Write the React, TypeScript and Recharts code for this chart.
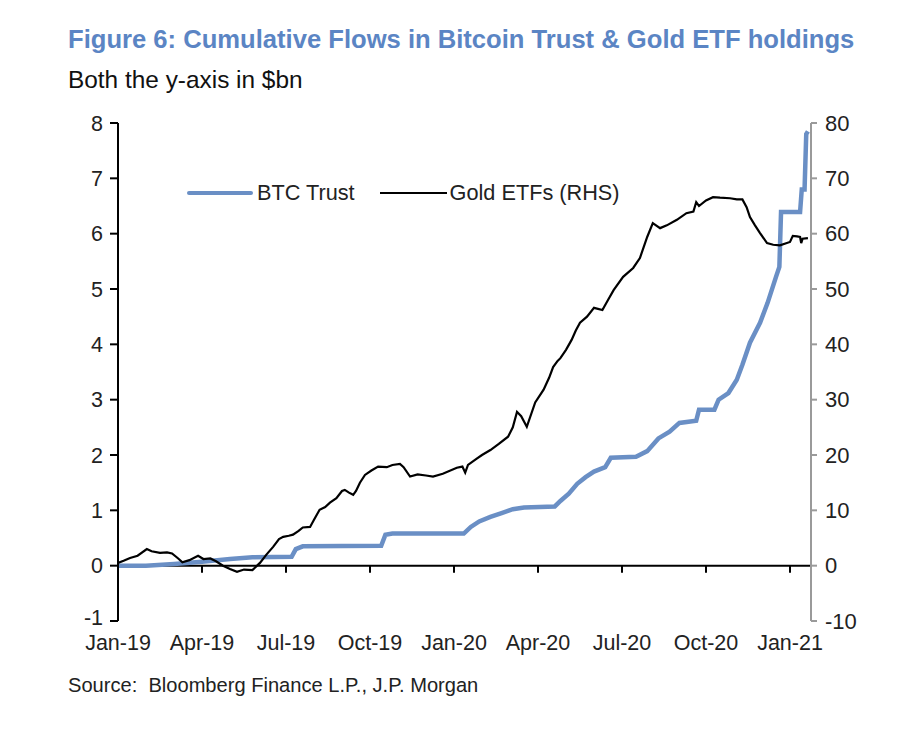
import React from "react";
import {
  LineChart,
  Line,
  XAxis,
  YAxis,
  ReferenceLine,
  Legend,
} from "recharts";

// months since Jan-2019
const goldMonths = [
  0, 0.2, 0.43, 0.7, 1.03, 1.2, 1.5, 1.75, 1.93, 2.15, 2.3, 2.55, 2.86, 3.05, 3.3, 3.5,
  3.75, 4.0, 4.25, 4.5, 4.8, 5.07, 5.3, 5.54, 5.75, 5.9, 6.1, 6.25, 6.45, 6.6, 6.86, 7.0,
  7.2, 7.4, 7.57, 7.8, 8.0, 8.1, 8.25, 8.4, 8.5, 8.64, 8.82, 9.05, 9.29, 9.6, 9.8, 10.07,
  10.2, 10.43, 10.7, 11.0, 11.25, 11.6, 12.1, 12.3, 12.4, 12.5, 12.8, 13.0, 13.3, 13.6,
  13.93, 14.1, 14.25, 14.4, 14.6, 14.9, 15.2, 15.4, 15.54, 15.7, 15.8, 16.0, 16.2, 16.35,
  16.5, 16.75, 17.0, 17.3, 17.5, 17.7, 18.04, 18.4, 18.64, 18.9, 19.1, 19.36, 19.6, 19.96,
  20.3, 20.55, 20.65, 20.75, 21.0, 21.25, 21.5, 21.86, 22.1, 22.3, 22.45, 22.57, 22.75,
  22.93, 23.18, 23.4, 23.64, 24.0, 24.1, 24.25, 24.36, 24.4, 24.45, 24.64,
];
// Gold ETFs cumulative flows, $bn (RHS)
const goldValues = [
  0.5, 0.9, 1.4, 1.8, 3.0, 2.6, 2.3, 2.4, 2.2, 1.3, 0.6, 1.0, 1.8, 1.2, 1.3, 0.8,
  0.0, -0.6, -1.1, -0.7, -0.8, 0.5, 2.0, 3.4, 4.8, 5.2, 5.4, 5.6, 6.3, 6.9, 7.0, 8.3,
  10.1, 10.6, 11.4, 12.2, 13.5, 13.7, 13.2, 12.8, 13.5, 15.0, 16.4, 17.2, 17.9, 17.8, 18.2, 18.4,
  17.8, 16.1, 16.5, 16.3, 16.1, 16.6, 17.7, 17.9, 16.8, 18.2, 19.3, 20.0, 20.9, 22.0,
  23.3, 25.0, 27.8, 27.0, 25.1, 29.5, 31.8, 34.0, 35.9, 37.0, 37.5, 39.0, 40.8, 42.5,
  43.9, 45.0, 46.6, 46.2, 48.0, 49.8, 52.2, 53.8, 55.6, 59.4, 61.9, 61.0, 61.5, 62.5,
  63.7, 64.0, 65.7, 65.0, 66.0, 66.6, 66.5, 66.4, 66.2, 66.2, 64.8, 63.0, 61.5,
  60.1, 58.3, 58.0, 57.9, 58.5, 59.6, 59.5, 59.4, 58.3, 59.1, 59.2,
];

const btcMonths = [
  0, 1.0, 2.0, 3.0, 4.0, 4.8, 6.2, 6.35, 6.6, 9.4, 9.55, 9.8, 12.35, 12.6, 12.9, 13.3,
  13.7, 14.1, 14.5, 15.6, 15.8, 16.1, 16.4, 16.7, 17.0, 17.4, 17.6, 18.5, 18.9, 19.3,
  19.7, 20.05, 20.65, 20.75, 21.3, 21.45, 21.8, 22.1, 22.3, 22.57, 22.93, 23.2, 23.5,
  23.62, 23.68, 24.36, 24.42, 24.52, 24.58, 24.64,
];
// Grayscale Bitcoin Trust cumulative flows, $bn (LHS)
const btcValues = [
  0.0, 0.0, 0.03, 0.07, 0.12, 0.15, 0.16, 0.3, 0.35, 0.36, 0.56, 0.58, 0.58, 0.7, 0.8, 0.88,
  0.95, 1.02, 1.05, 1.07, 1.17, 1.3, 1.48, 1.6, 1.7, 1.78, 1.95, 1.97, 2.07, 2.3,
  2.42, 2.58, 2.62, 2.82, 2.82, 3.0, 3.12, 3.36, 3.63, 4.03, 4.39, 4.75, 5.22,
  5.4, 6.39, 6.39, 6.8, 6.8, 7.8, 7.85,
];

const xTicks = [0, 3, 6, 9, 12, 15, 18, 21, 24];
const xTickLabels = ["Jan-19", "Apr-19", "Jul-19", "Oct-19", "Jan-20", "Apr-20", "Jul-20", "Oct-20", "Jan-21"];
const leftTicks = [-1, 0, 1, 2, 3, 4, 5, 6, 7, 8];
const rightTicks = [-10, 0, 10, 20, 30, 40, 50, 60, 70, 80];

const goldData = goldMonths.map((m, i) => ({ m, gold: goldValues[i] }));
const btcData = btcMonths.map((m, i) => ({ m, btc: btcValues[i] }));

const FONT = '"Liberation Sans", Arial, sans-serif';
const BTC_COLOR = "#6a8fc5";
const TITLE_COLOR = "#5b85c4";
const TICK_FONT = 21.5;

// bottom label (-1) sits a touch higher in the original, clear of Jan-19
const LeftTick = ({ x, y, payload }: any) => (
  <text
    x={x}
    y={y}
    dy={payload.value === -1 ? "0.2em" : "0.355em"}
    textAnchor="end"
    fill="#222"
    fontSize={TICK_FONT}
    fontFamily={FONT}
  >
    {payload.value}
  </text>
);

const LegendBox = () => (
  <div style={{ display: "flex", alignItems: "center", fontFamily: FONT, fontSize: 21.7, color: "#222", whiteSpace: "nowrap" }}>
    <span style={{ display: "inline-block", width: 66, height: 4.5, background: BTC_COLOR, borderRadius: 2 }} />
    <span style={{ marginLeft: 4 }}>BTC Trust</span>
    <span style={{ display: "inline-block", width: 67, height: 2, background: "#000", marginLeft: 25 }} />
    <span style={{ marginLeft: 3 }}>Gold ETFs (RHS)</span>
  </div>
);

export default function App() {
  return (
    <div style={{ position: "absolute", left: 0, top: 0, width: 906, height: 736, background: "#fff", fontFamily: FONT }}>
      <div style={{ position: "absolute", left: 68, top: 27, fontSize: 25.6, lineHeight: "25px", fontWeight: 700, color: TITLE_COLOR, whiteSpace: "nowrap" }}>
        Figure 6: Cumulative Flows in Bitcoin Trust &amp; Gold ETF holdings
      </div>
      <div style={{ position: "absolute", left: 68, top: 68, fontSize: 24.4, lineHeight: "24px", color: "#111", whiteSpace: "nowrap" }}>
        Both the y-axis in $bn
      </div>
      <div style={{ position: "absolute", left: 68, top: 675, fontSize: 20.1, lineHeight: "20px", color: "#222", whiteSpace: "pre" }}>
        {"Source:  Bloomberg Finance L.P., J.P. Morgan"}
      </div>

      <LineChart
        width={906}
        height={736}
        margin={{ top: 123, right: 35, left: 0, bottom: 75 }}
        style={{ position: "absolute", left: 0, top: 0 }}
      >
        <XAxis
          dataKey="m"
          type="number"
          domain={[0, 24.75]}
          ticks={xTicks}
          allowDataOverflow
          axisLine={false}
          tickLine={false}
          tickSize={0}
          tickMargin={14}
          height={40}
          interval={0}
          tick={{ fill: "#222", fontSize: TICK_FONT, fontFamily: FONT }}
          tickFormatter={(v: number) => xTickLabels[xTicks.indexOf(v)] ?? ""}
        />
        <YAxis
          yAxisId="left"
          domain={[-1, 8]}
          ticks={leftTicks}
          width={118}
          interval={0}
          axisLine={{ stroke: "#000", strokeWidth: 2 }}
          tickLine={{ stroke: "#000", strokeWidth: 2 }}
          tickSize={8}
          tickMargin={7}
          tick={<LeftTick />}
        />
        <YAxis
          yAxisId="right"
          orientation="right"
          domain={[-10, 80]}
          ticks={rightTicks}
          width={60}
          interval={0}
          axisLine={{ stroke: "#9a9a9a", strokeWidth: 2 }}
          tickLine={{ stroke: "#9a9a9a", strokeWidth: 2 }}
          tickSize={6}
          tickMargin={8}
          tick={{ fill: "#222", fontSize: 22, fontFamily: FONT }}
        />

        <ReferenceLine yAxisId="left" y={0} stroke="#000" strokeWidth={2} />
        {xTicks.slice(1).map((t) => (
          <ReferenceLine
            key={t}
            yAxisId="left"
            segment={[{ x: t, y: 0 }, { x: t, y: -0.13 }]}
            stroke="#000"
            strokeWidth={2}
          />
        ))}

        <Legend
          layout="horizontal"
          verticalAlign="middle"
          align="center"
          content={() => <LegendBox />}
          wrapperStyle={{ position: "absolute", left: 187, top: 180, width: "auto" }}
        />

        <Line
          yAxisId="left"
          data={btcData}
          dataKey="btc"
          name="BTC Trust"
          stroke={BTC_COLOR}
          strokeWidth={4.5}
          dot={false}
          type="linear"
          isAnimationActive={false}
        />
        <Line
          yAxisId="right"
          data={goldData}
          dataKey="gold"
          name="Gold ETFs (RHS)"
          stroke="#000"
          strokeWidth={2.2}
          dot={false}
          type="linear"
          isAnimationActive={false}
        />
      </LineChart>
    </div>
  );
}
